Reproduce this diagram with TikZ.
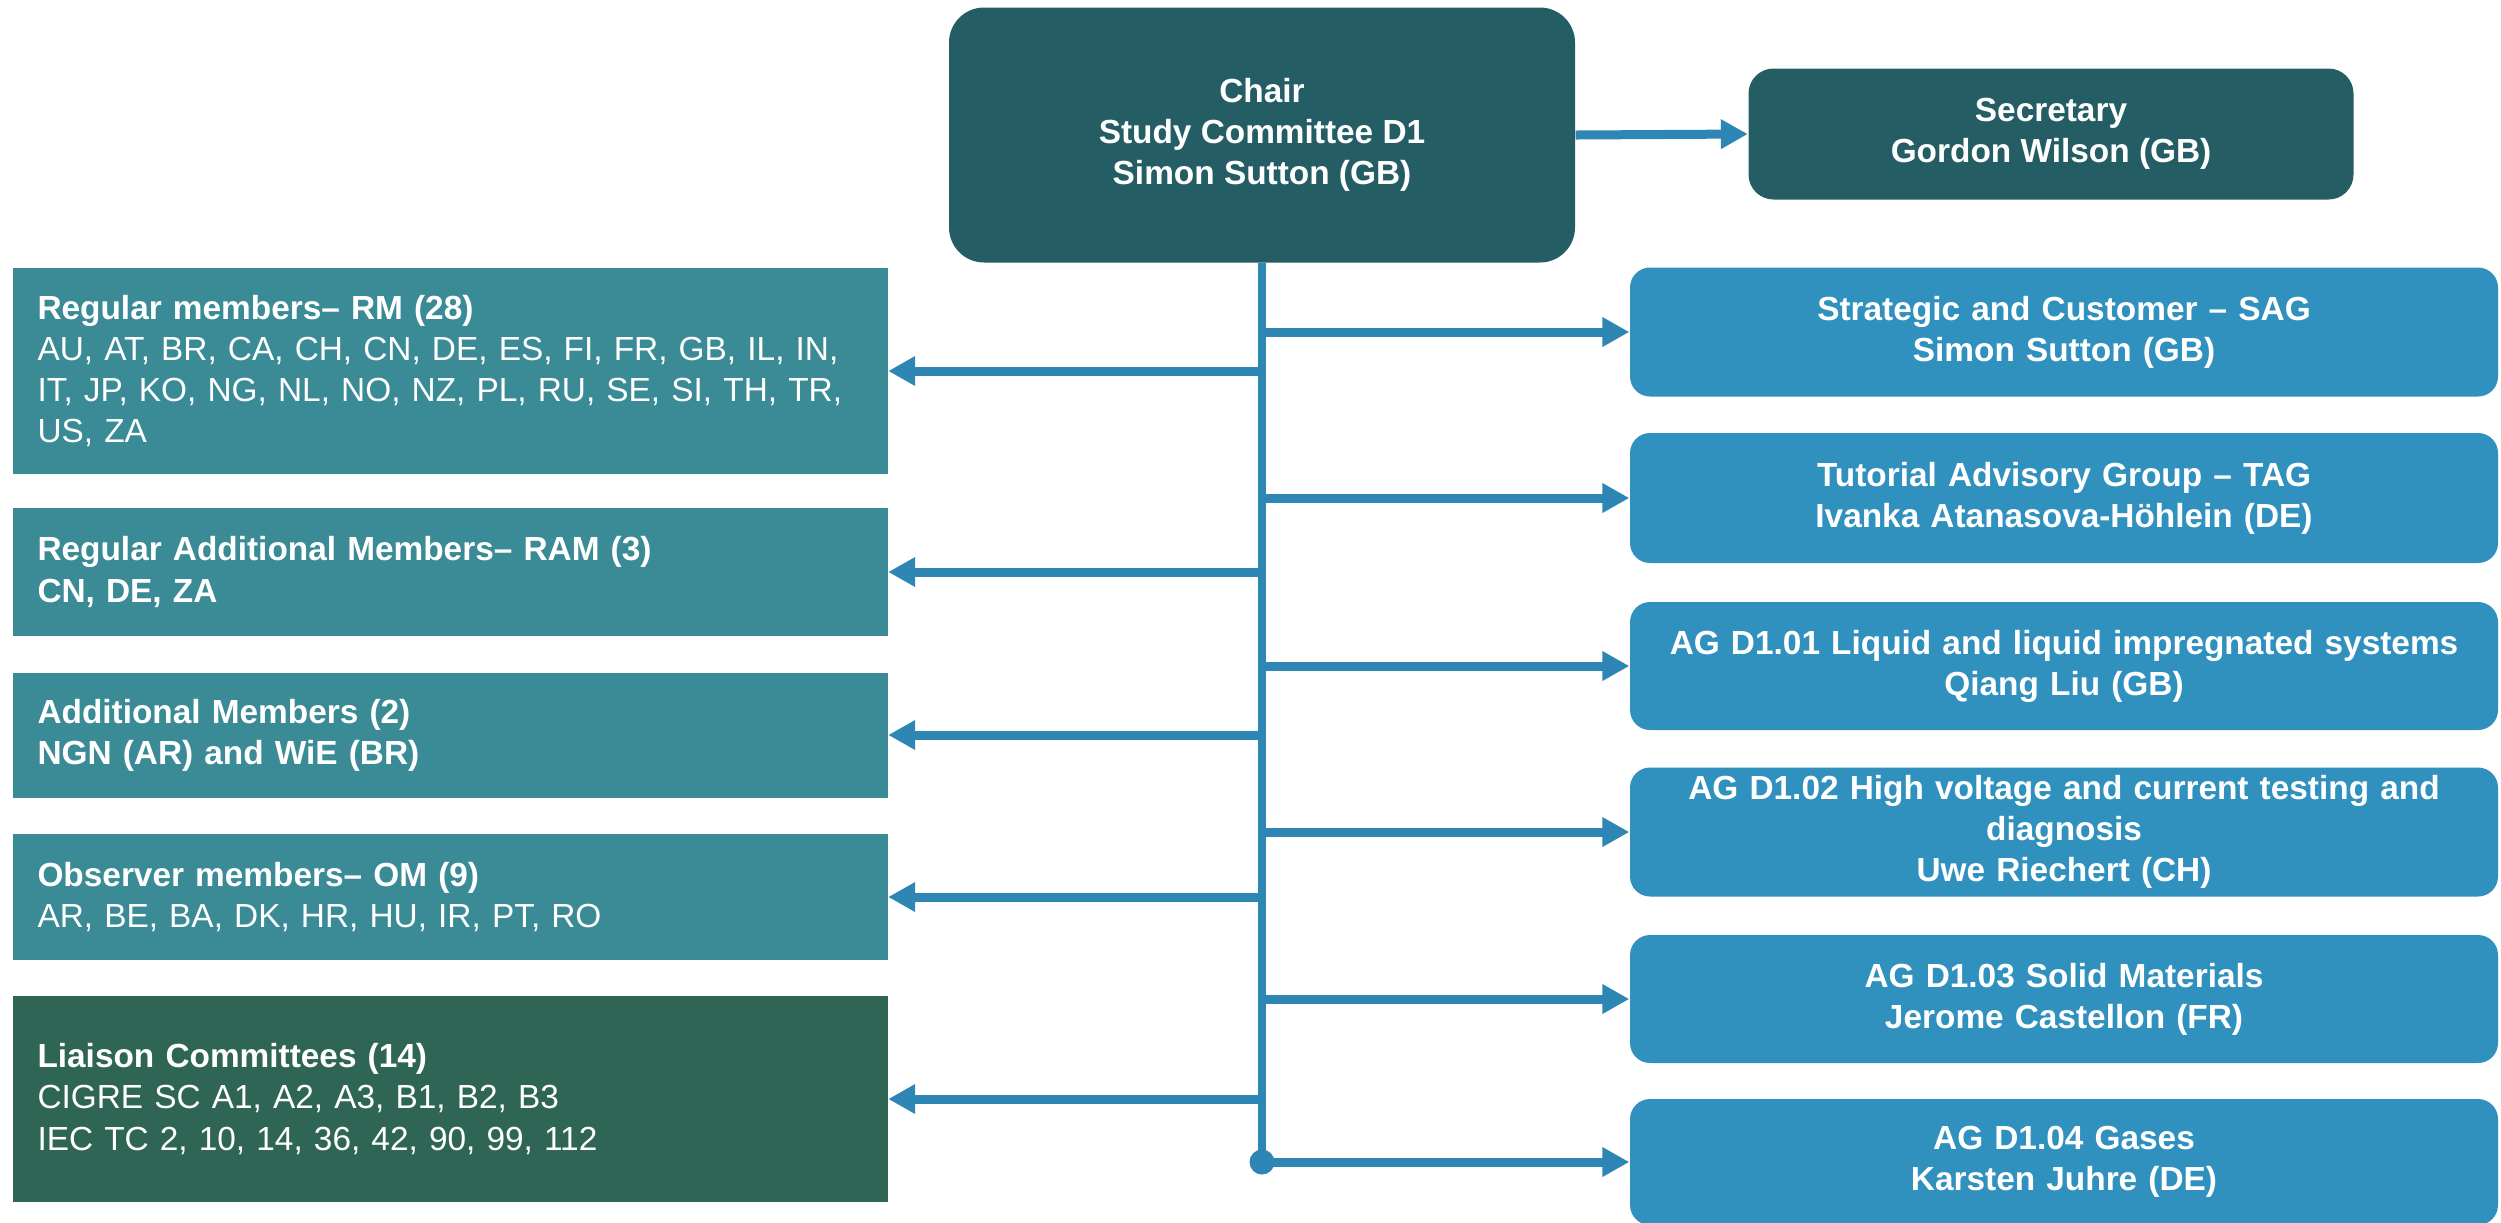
\documentclass[tikz,border=0pt]{standalone}
\usepackage{fontspec}
\setmainfont{Liberation Sans}
\usepackage{tikz}
\usetikzlibrary{positioning}
\usetikzlibrary{calc}
\usetikzlibrary{arrows.meta}

\definecolor{chairteal}{RGB}{36,94,100}
\definecolor{memberteal}{RGB}{58,139,150}
\definecolor{liaisongreen}{RGB}{47,101,84}
\definecolor{groupblue}{RGB}{49,145,190}
\definecolor{linkblue}{RGB}{46,134,181}

\begin{document}
\begin{tikzpicture}[
  x=0.1mm,y=-0.1mm,
  font=\fontsize{9.5}{11.7}\selectfont,
  every node/.style={text=white,inner sep=0pt},
  headbox/.style={fill=chairteal,align=center,font=\fontsize{9.5}{11.7}\selectfont\bfseries},
  memberbox/.style={fill=memberteal,minimum width=87.5mm,text width=82.5mm,align=left,inner xsep=2.5mm},
  groupbox/.style={fill=groupblue,rounded corners=2mm,minimum width=86.8mm,text width=84mm,align=center,font=\fontsize{9.5}{11.7}\selectfont\bfseries},
  link/.style={draw=linkblue,line width=0.9mm,-{Triangle[length=2.7mm,width=2.8mm]}},
  trunk/.style={draw=linkblue,line width=0.8mm}
  ]
  \useasboundingbox (0,0) rectangle (2501,1222);
  \fill[white] (0,0) rectangle (2501,1222);

  \node (chair)      [headbox,minimum width=62.6mm,minimum height=25.5mm,rounded corners=3.5mm] at (1262,135) {Chair\\Study Committee D1\\Simon Sutton (GB)};
  \node (secretary)  [headbox,minimum width=60.5mm,minimum height=13.1mm,rounded corners=2.5mm] at (2051,134) {Secretary\\Gordon Wilson (GB)};

  \node (regular)    [memberbox,minimum height=20.6mm] at (450,371) {\textbf{Regular members– RM (28)}\\AU, AT, BR, CA, CH, CN, DE, ES, FI, FR, GB, IL, IN,\\IT, JP, KO, NG, NL, NO, NZ, PL, RU, SE, SI, TH, TR,\\US, ZA};
  \node (regadd)     [memberbox,minimum height=12.8mm] at (450,572) {\textbf{Regular Additional Members– RAM (3)}\\\textbf{CN, DE, ZA}};
  \node (additional) [memberbox,minimum height=12.5mm] at (450,735) {\textbf{Additional Members (2)}\\\textbf{NGN (AR) and WiE (BR)}};
  \node (observer)   [memberbox,minimum height=12.6mm] at (450,897) {\textbf{Observer members– OM (9)}\\AR, BE, BA, DK, HR, HU, IR, PT, RO};
  \node (liaison)    [memberbox,fill=liaisongreen,minimum height=20.6mm] at (450,1099) {\textbf{Liaison Committees (14)}\\CIGRE SC A1, A2, A3, B1, B2, B3\\IEC TC 2, 10, 14, 36, 42, 90, 99, 112};

  \node (sag)  [groupbox,minimum height=12.9mm] at (2064,332)  {Strategic and Customer – SAG\\Simon Sutton (GB)};
  \node (tag)  [groupbox,minimum height=13.0mm] at (2064,498)  {Tutorial Advisory Group – TAG\\Ivanka Atanasova-Höhlein (DE)};
  \node (ag01) [groupbox,minimum height=12.8mm] at (2064,666)  {AG D1.01 Liquid and liquid impregnated systems\\Qiang Liu (GB)};
  \node (ag02) [groupbox,minimum height=12.9mm] at (2064,832)  {AG D1.02 High voltage and current testing and\\diagnosis\\Uwe Riechert (CH)};
  \node (ag03) [groupbox,minimum height=12.8mm] at (2064,999)  {AG D1.03 Solid Materials\\Jerome Castellon (FR)};
  \node (ag04) [groupbox,minimum height=12.6mm] at (2064,1162) {AG D1.04 Gases\\Karsten Juhre (DE)};

  \coordinate (junction) at (chair.south |- ag04);

  \draw[link]  (chair.east) -- (secretary.west);
  \draw[trunk] (chair.south) -- (junction);
  \fill[linkblue] (junction) circle (1.25mm);

  \draw[link] (chair.south |- sag)  -- (sag.west);
  \draw[link] (chair.south |- tag)  -- (tag.west);
  \draw[link] (chair.south |- ag01) -- (ag01.west);
  \draw[link] (chair.south |- ag02) -- (ag02.west);
  \draw[link] (chair.south |- ag03) -- (ag03.west);
  \draw[link] (chair.south |- ag04) -- (ag04.west);

  \draw[link] (chair.south |- regular)    -- (regular.east);
  \draw[link] (chair.south |- regadd)     -- (regadd.east);
  \draw[link] (chair.south |- additional) -- (additional.east);
  \draw[link] (chair.south |- observer)   -- (observer.east);
  \draw[link] (chair.south |- liaison)    -- (liaison.east);
\end{tikzpicture}
\end{document}
